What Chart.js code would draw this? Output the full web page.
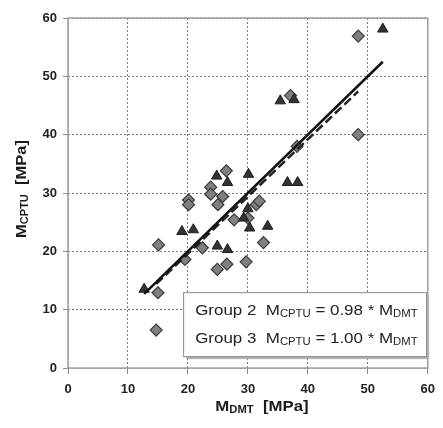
<!DOCTYPE html>
<html>
<head>
<meta charset="utf-8">
<script src="https://cdn.jsdelivr.net/npm/chart.js@4.4.1/dist/chart.umd.min.js"></script>
<style>
  html, body { margin: 0; padding: 0; background: #fff; }
  #wrap { width: 443px; height: 428px; position: relative; }
</style>
</head>
<body>
<div id="wrap"><canvas id="mChart" width="443" height="428"></canvas></div>
<script>
// Group 2 (diamonds)
const groupTwoX = [14.7, 15.0, 15.1, 19.5, 20.1, 20.1, 22.4, 23.8, 23.8, 25.0, 25.8, 26.4,
  24.9, 26.5, 27.7, 29.7, 30.0, 31.4, 31.9, 32.6, 37.1, 38.2, 48.4, 48.4];
const groupTwoY = [6.5, 12.9, 21.1, 18.6, 28.8, 28.0, 20.6, 31.0, 29.8, 28.0, 29.4, 33.8,
  16.9, 17.8, 25.4, 18.2, 25.7, 28.0, 28.6, 21.5, 46.7, 38.0, 40.0, 56.9];

// Group 3 (triangles)
const groupThreeX = [12.7, 19.0, 20.9, 24.9, 26.6, 24.8, 26.6, 30.1, 30.0, 29.3, 30.3, 33.3,
  35.4, 37.7, 36.6, 38.3, 52.5];
const groupThreeY = [13.5, 23.4, 23.7, 20.9, 20.3, 32.9, 31.8, 33.2, 27.3, 25.7, 24.0, 24.3,
  45.8, 46.0, 31.8, 31.8, 58.1];

// fitted slopes, and x range each line covers
const groupLabels = ["Group 2", "Group 3"];
const slopes = [0.98, 1.00];
const fitRangeTwo = [14.7, 48.4];
const fitRangeThree = [12.7, 52.5];

const axisTicks = [0, 10, 20, 30, 40, 50, 60];

const toPoints = (xs, ys) => xs.map((x, i) => ({ x: x, y: ys[i] }));
const fitLine = (range, k) => range.map(x => ({ x: x, y: k * x }));

const FONT = "'Liberation Sans', Arial, sans-serif";

// text with subscripts, e.g. [["M"], ["CPTU", 1], [" [MPa]"]]
function richWidth(ctx, parts, size, subSize, weight) {
  let w = 0;
  parts.forEach(p => {
    ctx.font = weight + " " + (p[1] ? subSize : size) + "px " + FONT;
    w += ctx.measureText(p[0]).width;
  });
  return w;
}
function drawRich(ctx, parts, x, y, size, subSize, weight) {
  let cx = x;
  parts.forEach(p => {
    ctx.font = weight + " " + (p[1] ? subSize : size) + "px " + FONT;
    ctx.fillText(p[0], cx, p[1] ? y + size * 0.22 : y);
    cx += ctx.measureText(p[0]).width;
  });
}

const decorPlugin = {
  id: "decor",
  afterDraw: (chart) => {
    const ctx = chart.ctx;
    const a = chart.chartArea;
    ctx.save();

    // frame
    ctx.strokeStyle = "#a0a0a0";
    ctx.lineWidth = 1.5;
    ctx.strokeRect(a.left, a.top, a.right - a.left, a.bottom - a.top);

    ctx.fillStyle = "#1a1a1a";
    ctx.textBaseline = "middle";

    // x title
    const xt = [["M"], ["DMT", 1], ["  [MPa]"]];
    const xw = richWidth(ctx, xt, 15, 10, "bold") * 1.12;
    ctx.save();
    ctx.translate(262 - xw / 2, 407);
    ctx.scale(1.12, 1);
    drawRich(ctx, xt, 0, 0, 15, 10, "bold");
    ctx.restore();

    // y title
    const yt = [["M"], ["CPTU", 1], ["  [MPa]"]];
    const yw = richWidth(ctx, yt, 15, 10, "bold") * 1.1;
    ctx.save();
    ctx.translate(22, 189);
    ctx.rotate(-Math.PI / 2);
    ctx.scale(1.1, 1);
    drawRich(ctx, yt, -yw / 2 / 1.1, 0, 15, 10, "bold");
    ctx.restore();

    // equation box
    const bx = chart.scales.x.getPixelForValue(19.2);
    const by = chart.scales.y.getPixelForValue(13.0);
    const bw = 243, bh = 64;
    ctx.fillStyle = "#b4b4b4";
    ctx.fillRect(bx + 3, by + 3, bw, bh);
    ctx.fillStyle = "#fff";
    ctx.fillRect(bx, by, bw, bh);
    ctx.strokeStyle = "#8a8a8a";
    ctx.lineWidth = 1;
    ctx.strokeRect(bx + 0.5, by + 0.5, bw, bh);

    ctx.fillStyle = "#222";
    slopes.forEach((k, i) => {
      const parts = [[groupLabels[i] + "  M"], ["CPTU", 1], [" = " + k.toFixed(2) + " * M"], ["DMT", 1]];
      ctx.save();
      ctx.translate(bx + 12, by + 19 + i * 28);
      ctx.scale(1.13, 1);
      drawRich(ctx, parts, 0, 0, 15, 10, "normal");
      ctx.restore();
    });

    ctx.restore();
  }
};

const tickFont = { family: FONT, size: 13, weight: "bold" };

new Chart(document.getElementById("mChart"), {
  type: "scatter",
  data: {
    datasets: [
      {
        label: "Fit 3",
        data: fitLine(fitRangeThree, slopes[1]),
        showLine: true,
        borderColor: "#111",
        borderWidth: 2.5,
        pointRadius: 0,
        order: 0,
      },
      {
        label: "Fit 2",
        data: fitLine(fitRangeTwo, slopes[0]),
        showLine: true,
        borderColor: "#222",
        borderWidth: 2.5,
        borderDash: [9, 4],
        pointRadius: 0,
        order: 1,
      },
      {
        label: "Group 3",
        data: toPoints(groupThreeX, groupThreeY),
        pointStyle: "triangle",
        pointRadius: 6,
        backgroundColor: "#333",
        borderColor: "#1e1e1e",
        borderWidth: 1,
        order: 2,
      },
      {
        label: "Group 2",
        data: toPoints(groupTwoX, groupTwoY),
        pointStyle: "rectRot",
        pointRadius: 6,
        backgroundColor: "#808080",
        borderColor: "#3a3a3a",
        borderWidth: 1.2,
        order: 3,
      },
    ],
  },
  options: {
    responsive: false,
    animation: false,
    layout: { padding: { top: 18, right: 8, left: 0, bottom: 0 } },
    plugins: {
      legend: { display: false },
      tooltip: { enabled: false },
    },
    scales: {
      x: {
        type: "linear",
        min: 0,
        max: 60,
        afterFit: (s) => { s.height = 60; },
        afterBuildTicks: (s) => { s.ticks = axisTicks.map(v => ({ value: v })); },
        grid: { color: "#7a7a7a", lineWidth: 1, tickLength: 6, tickBorderDash: [], tickColor: "#8c8c8c" },
        border: { display: false, dash: [2, 2] },
        ticks: { color: "#222", font: tickFont, padding: 8, maxRotation: 0 },
      },
      y: {
        type: "linear",
        min: 0,
        max: 60,
        afterFit: (s) => { s.width = 68; },
        afterBuildTicks: (s) => { s.ticks = axisTicks.map(v => ({ value: v })); },
        grid: { color: "#7a7a7a", lineWidth: 1, tickLength: 5, tickBorderDash: [], tickColor: "#8c8c8c" },
        border: { display: false, dash: [2, 2] },
        ticks: { color: "#222", font: tickFont, padding: 6 },
      },
    },
  },
  plugins: [decorPlugin],
});
</script>
</body>
</html>
